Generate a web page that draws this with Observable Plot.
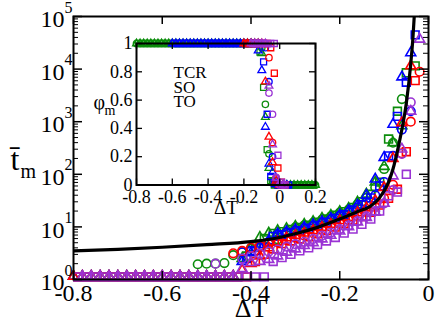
<!DOCTYPE html>
<html><head><meta charset="utf-8">
<script src="https://cdn.jsdelivr.net/npm/d3@7"></script>
<script src="https://cdn.jsdelivr.net/npm/@observablehq/plot@0.6"></script>
<style>
body{margin:0;background:#fff}
#wrap{position:relative;width:436px;height:327px;overflow:hidden}
#inset{position:absolute;left:88px;top:27px}
</style></head><body><div id="wrap"><div id="main"></div><div id="inset"></div></div>
<script>
// ---------- shared ΔT grids ----------
const gridA = [-0.80,-0.78,-0.76,-0.74,-0.72,-0.70,-0.68,-0.66,-0.64,-0.62,-0.60,-0.58,-0.56,-0.54,-0.52,-0.50,-0.48,-0.46,-0.44,-0.42,-0.40,-0.38,-0.36,-0.34,-0.32,-0.30,-0.28,-0.26,-0.24,-0.22,-0.20,-0.18,-0.16,-0.14,-0.12,-0.10,-0.08,-0.06,-0.04,-0.02,0.00,0.02,0.04,0.06,0.08,0.10,0.12,0.14,0.16,0.18,0.20];
const gridB = [-0.79,-0.77,-0.75,-0.73,-0.71,-0.69,-0.67,-0.65,-0.63,-0.61,-0.59,-0.57,-0.55,-0.53,-0.51,-0.49,-0.47,-0.45,-0.43,-0.41,-0.39,-0.37,-0.35,-0.33,-0.31,-0.29,-0.27,-0.25,-0.23,-0.21,-0.19,-0.17,-0.15,-0.13,-0.11,-0.09,-0.07,-0.05,-0.03,-0.01,0.01,0.03,0.05,0.07,0.09,0.11,0.13,0.15,0.17,0.19];

// ---------- main panel: mean time t_m (triangles on gridA, squares on gridB, circles on gridA) ----------
const triGreen = [1.15,1.15,1.15,1.15,1.15,1.15,1.15,1.15,1.15,1.15,1.15,1.15,1.15,1.15,1.15,1.15,1.15,1.15,1.15,2.5,4.0,6.3,7.6,8.5,9.3,10.2,11.2,12.6,14.5,16.6,19.5,22.4,29.5,42,71,141,398,832,null,null];
const sqGreen = [1.12,1.12,1.12,1.12,1.12,1.12,1.12,1.12,1.12,1.12,1.12,1.12,1.12,1.12,1.12,1.12,1.12,1.12,1.12,2.8,4.2,6.0,7.5,8.1,8.9,9.8,10.8,12.3,14.1,16.6,19.5,23.4,30.2,41.7,71,468,1580,8510,11500];
const ciGreen = [null,null,null,null,null,null,null,null,null,null,null,null,null,null,1.95,2.0,2.0,2.05,2.9,3.3,3.9,4.2,4.8,5.8,7.9,9.8,10.7,12,13.8,15.8,18.6,21.4,26.9,35.5,56,126,398,2690,null,null];
const triBlue = [1.15,1.15,1.15,1.15,1.15,1.15,1.15,1.15,1.15,1.15,1.15,1.15,1.15,1.15,1.15,1.15,1.15,1.15,1.15,2.2,3.2,4.2,5.5,7.4,8.1,8.9,9.8,11,12.6,14.5,17,20.4,26,40,81,209,891,7080,20400,null];
const sqBlue = [1.12,1.12,1.12,1.12,1.12,1.12,1.12,1.12,1.12,1.12,1.12,1.12,1.12,1.12,1.12,1.12,1.12,1.12,1.12,2.5,3.5,4.8,6.6,7.1,7.8,8.5,9.4,10.7,12.3,14.5,17,20.9,26.3,35.5,60,224,1260,5620,44700];
const ciBlue = [null,null,null,null,null,null,null,null,null,null,null,null,null,null,null,null,null,null,null,3.3,3.5,4.1,5.2,7.1,7.8,8.5,9.3,10.5,12,13.8,16.2,19,23.4,28.8,40,71,224,708,1580,null];
const triRed = [1.15,1.15,1.15,1.15,1.15,1.15,1.15,1.15,1.15,1.15,1.15,1.15,1.15,1.15,1.15,1.15,1.15,1.15,1.15,1.5,2.0,2.8,4.0,5.2,6.2,6.9,7.6,8.5,9.8,11.2,13.2,15.1,18.6,22.9,31.6,56,200,955,11500,null];
const sqRed = [1.12,1.12,1.12,1.12,1.12,1.12,1.12,1.12,1.12,1.12,1.12,1.12,1.12,1.12,1.12,1.12,1.12,1.12,1.12,1.12,2.2,3.0,3.8,4.8,5.4,5.9,6.5,7.4,8.5,9.9,11.5,13.5,15.8,19,26,35,52,269,6030];
const ciRed = [null,null,null,null,null,null,null,null,null,null,null,null,null,null,null,null,null,null,3.15,3.5,4.0,4.4,4.8,5.1,5.6,6.2,6.8,7.6,8.7,10,11.7,13.5,16.2,19,24,35,63,251,1000,8900];
const triPurple = [null,1.15,1.15,1.15,1.15,1.15,1.15,1.15,1.15,1.15,1.15,1.15,1.15,1.15,1.15,1.15,1.15,1.15,1.15,1.6,2.1,2.2,2.4,2.8,3.3,3.8,4.4,5.0,5.9,6.9,8.3,10,12.3,15.1,19,28,93,302,1580,37000];
const sqPurple = [1.12,1.12,1.12,1.12,1.12,1.12,1.12,1.12,1.12,1.12,1.12,1.12,1.12,1.12,1.12,1.12,1.12,1.12,1.12,1.12,1.12,1.12,2.2,2.6,3.0,3.5,4.0,4.6,5.4,6.3,7.6,9.1,11.2,14.1,20,39,46,100,null];
const ciPurple = [null,null,null,null,null,null,null,null,null,null,null,null,null,null,null,null,2.0,null,null,2.5,2.8,3.1,3.4,3.7,4.2,4.7,5.2,5.9,6.8,7.8,9.1,10.7,12.9,15.8,20,28,50,245,2340,null];

// fitted curve
const fitDT = [-0.80,-0.70,-0.60,-0.50,-0.40,-0.35,-0.30,-0.25,-0.20,-0.16,-0.13,-0.11,-0.09,-0.08,-0.07,-0.06,-0.05,-0.04,-0.035,-0.03];
const fitT = [3.5,3.75,4.1,4.6,5.25,5.95,7.4,9.8,14.1,19.5,25,36,71,126,280,710,2240,12600,40000,200000];

// ---------- inset: φ_m ----------
const inTriGreen = [1,1,1,1,1,1,1,1,1,1,1,1,1,1,1,1,1,1,1,1,1,1,1,1,1,1,1,1,1,1,1,1,1,1,1,0.93,0.48,0.12,0.02,0,0,0,0,0,0,0,0,0,0,0,0];
const inSqGreen = [1,1,1,1,1,1,1,1,1,1,1,1,1,1,1,1,1,1,1,1,1,1,1,1,1,1,1,1,1,1,1,1,1,1,0.94,0.69,0.25,0.03,0,0,0,0,0,0,0,0,0,0,0,0];
const inCiGreen = [1,1,1,1,1,1,1,1,1,1,1,1,1,1,1,1,1,1,1,1,1,1,1,1,1,1,1,1,1,1,1,1,1,1,1,0.97,0.57,0.22,0.03,0,0,0,0,0,0,0,0,0,0,0,0];
const inTriBlue = [null,null,null,null,null,null,null,null,null,null,1,1,1,1,1,1,1,1,1,1,1,1,1,1,1,1,1,1,1,1,1,1,1,1,0.95,0.81,0.41,0.15,0.09,0.01,0,0,0,null,null,null,null,null,null,null,null];
const inSqBlue = [null,null,null,null,null,null,null,null,null,null,1,1,1,1,1,1,1,1,1,1,1,1,1,1,1,1,1,1,1,1,1,1,1,1,1,0.87,0.5,0.06,0.01,0,0,0,0,null,null,null,null,null,null,null];
const inCiBlue = [null,null,null,null,null,null,null,null,null,null,null,null,null,null,null,null,null,null,null,null,1,1,1,1,1,1,1,1,1,1,1,1,1,1,1,1,0.97,0.73,0.2,0.03,0,0,null,null,null,null,null,null,null,null,null];
const inTriRed = [null,null,null,null,null,null,null,null,null,null,null,null,null,null,null,null,null,null,null,null,null,null,null,null,null,null,null,null,null,null,1,1,1,1,1,1,0.73,0.34,0.16,0.03,0,0,null,null,null,null,null,null,null,null,null];
const inSqRed = [null,null,null,null,null,null,null,null,null,null,null,null,null,null,null,null,null,null,null,null,null,null,null,null,null,null,null,null,null,null,1,1,1,1,1,1,1,0.97,0.79,0.12,0.02,0,null,null,null,null,null,null,null,null];
const inCiRed = [null,null,null,null,null,null,null,null,null,null,null,null,null,null,null,null,null,null,null,null,null,null,null,null,null,null,null,null,null,null,null,1,1,1,1,1,1,0.9,0.3,0.05,0,0,null,null,null,null,null,null,null,null,null];
const inTriPurple = [null,null,null,null,null,null,null,null,null,null,null,null,null,null,null,null,null,null,null,null,null,null,null,null,null,null,null,null,null,null,null,null,1,1,1,1,1,0.7,0.285,0.05,0.01,0,null,null,null,null,null,null,null,null,null];
const inSqPurple = [null,null,null,null,null,null,null,null,null,null,null,null,null,null,null,null,null,null,null,null,null,null,null,null,null,null,null,null,null,null,null,null,1,1,1,1,1,1,1,0.21,0.02,0,null,null,null,null,null,null,null,null];
const inCiPurple = [null,null,null,null,null,null,null,null,null,null,null,null,null,null,null,null,null,null,null,null,null,null,null,null,null,null,null,null,null,null,null,null,null,1,1,1,1,0.65,0.5,0.054,0,0,null,null,null,null,null,null,null,null,null];

// ---------- ticks / labels ----------
const xTicks = [-0.8,-0.6,-0.4,-0.2,0];
const yTicks = [1,10,100,1000,10000,100000];
const yMinor = [];
for (const p of [1,10,100,1000,10000]) for (const k of [2,3,4,5,6,7,8,9]) yMinor.push(k*p);
const insetXTicks = [-0.8,-0.6,-0.4,-0.2,0,0.2];
const insetYTicks = [0,0.2,0.4,0.6,0.8,1];
const legendLabels = ["TCR","SO","TO"];

const FONT = "Liberation Serif";
const colorOf = {green:"#0b8c0b", blue:"#0000ff", red:"#ff0000", purple:"#9a33d4"};

const mainSeries = [
  ["green","triangle",triGreen,gridA],["green","square",sqGreen,gridB],["green","circle",ciGreen,gridA],
  ["blue","triangle",triBlue,gridA],["blue","square",sqBlue,gridB],["blue","circle",ciBlue,gridA],
  ["red","triangle",triRed,gridA],["red","square",sqRed,gridB],["red","circle",ciRed,gridA],
  ["purple","triangle",triPurple,gridA],["purple","square",sqPurple,gridB],["purple","circle",ciPurple,gridA]
];
const insetSeries = [
  ["green","triangle",inTriGreen,gridA],["green","square",inSqGreen,gridB],["green","circle",inCiGreen,gridA],
  ["blue","triangle",inTriBlue,gridA],["blue","square",inSqBlue,gridB],["blue","circle",inCiBlue,gridA],
  ["red","triangle",inTriRed,gridA],["red","square",inSqRed,gridB],["red","circle",inCiRed,gridA],
  ["purple","triangle",inTriPurple,gridA],["purple","square",inSqPurple,gridB],["purple","circle",inCiPurple,gridA]
];
const rMain = {triangle:3.7, square:4.4, circle:4.3};
const rInset = {triangle:2.9, square:3.4, circle:3.2};

function dots(list, rs, sw) {
  return list.map(([c, shape, ys, xs]) => Plot.dot(ys, {
    x: xs.slice(0, ys.length), y: ys, symbol: shape, r: rs[shape],
    stroke: colorOf[c], strokeWidth: sw, fill: "none"
  }));
}

// main frame size
const MW = 355, MH = 263;
const mainPlot = Plot.plot({
  width: 436, height: 327,
  marginLeft: 73, marginRight: 8, marginTop: 16, marginBottom: 48,
  style: {fontFamily: FONT, background: "white", color: "black"},
  x: {domain: [-0.8, 0], axis: null},
  y: {type: "log", domain: [1, 1e5], axis: null},
  marks: [
    ...dots(mainSeries, rMain, 1.6),
    Plot.line(fitT, {x: fitDT, y: fitT, curve: "monotone-x", stroke: "black", strokeWidth: 3.2, clip: true}),
    Plot.frame({stroke: "black", strokeWidth: 2}),
    Plot.ruleX(xTicks, {x: d => d, insetTop: MH - 8, stroke: "black", strokeWidth: 1.5}),
    Plot.ruleX(xTicks, {x: d => d, insetBottom: MH - 8, stroke: "black", strokeWidth: 1.5}),
    Plot.ruleY(yTicks, {y: d => d, insetRight: MW - 9, stroke: "black", strokeWidth: 1.5}),
    Plot.ruleY(yTicks, {y: d => d, insetLeft: MW - 9, stroke: "black", strokeWidth: 1.5}),
    Plot.ruleY(yMinor, {y: d => d, insetRight: MW - 5, stroke: "black", strokeWidth: 1}),
    Plot.ruleY(yMinor, {y: d => d, insetLeft: MW - 5, stroke: "black", strokeWidth: 1}),
    Plot.text(xTicks, {x: d => d, text: d => String(d), frameAnchor: "bottom", lineAnchor: "top", dy: 4, fontSize: 24, fill: "black"}),
    Plot.text(yTicks, {y: d => d, text: () => "10", frameAnchor: "left", textAnchor: "end", dx: -9, dy: 3, fontSize: 24, fill: "black"}),
    Plot.text(yTicks, {y: d => d, text: d => String(Math.round(Math.log10(d))), frameAnchor: "left", textAnchor: "start", dx: -9, dy: -9, fontSize: 16, fill: "black"}),
    Plot.text(["ΔT"], {text: d => d, frameAnchor: "bottom", dy: 37, fontSize: 26, fill: "black"}),
    Plot.text(["t\u0304"], {text: d => d, frameAnchor: "left", textAnchor: "start", dx: -63, dy: 12, fontSize: 32, fill: "black"}),
    Plot.text(["m"], {text: d => d, frameAnchor: "left", textAnchor: "start", dx: -53, dy: 24, fontSize: 20, fill: "black"})
  ]
});
document.getElementById("main").appendChild(mainPlot);

// inset frame size
const IW = 179, IH = 141.5;
const insetPlot = Plot.plot({
  width: 250, height: 200,
  marginLeft: 48, marginRight: 23, marginTop: 16, marginBottom: 42.5,
  style: {fontFamily: FONT, background: "transparent", color: "black", overflow: "visible"},
  x: {domain: [-0.8, 0.2], axis: null},
  y: {domain: [0, 1], axis: null},
  marks: [
    ...dots(insetSeries, rInset, 1.3),
    Plot.frame({stroke: "black", strokeWidth: 2}),
    Plot.ruleX(insetXTicks, {x: d => d, insetTop: IH - 6, stroke: "black", strokeWidth: 1.3}),
    Plot.ruleX(insetXTicks, {x: d => d, insetBottom: IH - 6, stroke: "black", strokeWidth: 1.3}),
    Plot.ruleY(insetYTicks, {y: d => d, insetRight: IW - 6, stroke: "black", strokeWidth: 1.3}),
    Plot.ruleY(insetYTicks, {y: d => d, insetLeft: IW - 6, stroke: "black", strokeWidth: 1.3}),
    Plot.text(insetXTicks, {x: d => d, text: d => String(d), frameAnchor: "bottom", lineAnchor: "top", dy: 5, fontSize: 18, fill: "black"}),
    Plot.text(insetYTicks, {y: d => d, text: d => String(d), frameAnchor: "left", textAnchor: "end", dx: -4, fontSize: 18, fill: "black"}),
    Plot.text(["ΔT"], {text: d => d, frameAnchor: "bottom", dy: 29, fontSize: 19, fill: "black"}),
    Plot.text(["φ"], {text: d => d, frameAnchor: "left", textAnchor: "start", dx: -43, dy: -12, fontSize: 20, fill: "black"}),
    Plot.text(["m"], {text: d => d, frameAnchor: "left", textAnchor: "start", dx: -32, dy: -4, fontSize: 14, fill: "black"}),
    ...legendLabels.map((t, i) => Plot.text([t], {text: d => d, frameAnchor: "top-left", textAnchor: "start", dx: 37, dy: 22.5 + 14.5 * i, fontSize: 17, fill: "black"}))
  ]
});
document.getElementById("inset").appendChild(insetPlot);
</script></body></html>
